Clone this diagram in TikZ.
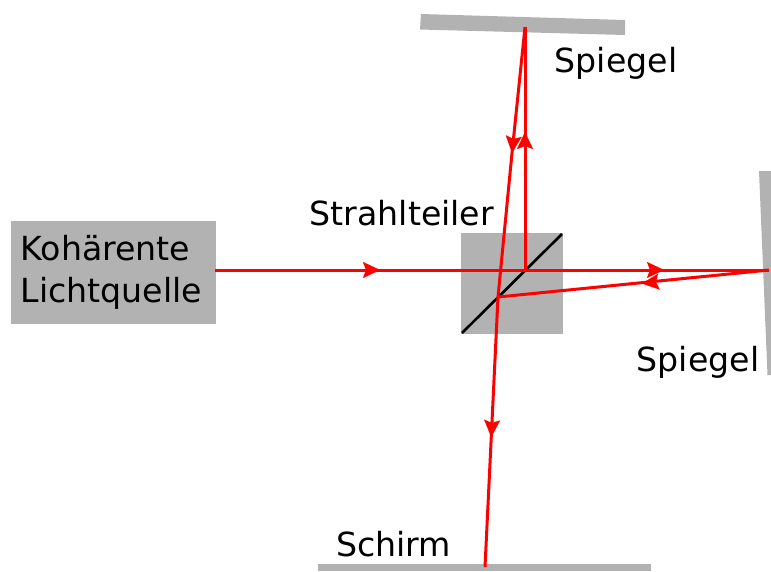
\documentclass[tikz,border=0pt]{standalone}
\usepackage{fontspec}
\setmainfont{DejaVu Sans}
\usetikzlibrary{arrows.meta}
\definecolor{gr}{RGB}{178,178,178}
\tikzset{
  beam/.style={draw=red,line width=3pt},
  tipped/.style={draw=red,line width=0.01pt,-{Stealth[length=17pt,width=16pt,inset=3pt,fill=red]}},
  block/.style={fill=gr,draw=none,inner sep=0pt,minimum width=#1},
  mirror/.style={fill=gr,draw=none},
  lbl/.style={anchor=base west,inner sep=0pt,font=\fontsize{33.2}{40}\selectfont,text=black},
}
\begin{document}
\begin{tikzpicture}[x=1pt,y=-1pt]
\useasboundingbox (0,0) rectangle (771,571);
% mirrors
\fill[mirror] (421,14) -- (625,20) -- (625,35) -- (420,29.5) -- cycle;
\fill[mirror] (759,171) -- (771,171) -- (771,375) -- (767.5,375) -- cycle;
\fill[mirror] (318,564) rectangle (651,571);
% boxes
\node[block=205pt,minimum height=103pt] (src) at (113.5,272.5) {};
\node[block=102pt,minimum height=101pt] (cube) at (512,283.5) {};
\node[lbl] at (20.5,260) {Kohärente};
\node[lbl] at (20.5,302) {Lichtquelle};
\node[lbl] at (309.5,225) {Strahlteiler};
\node[lbl] at (554.5,72.5) {Spiegel};
\node[lbl] at (636.5,371.5) {Spiegel};
\node[lbl] at (336,556) {Schirm};
% splitter
\coordinate (d1) at (462,333);
\coordinate (d2) at (562,234);
\draw[black,line width=2.6pt] (d1) -- (d2);
% beam points
\coordinate (in) at (215,270);
\coordinate (t1) at (380,270);
\coordinate (c) at (525,270);
\coordinate (t2) at (664,270);
\coordinate (rm) at (769,270);
\coordinate (t3) at (642,283.5);
\coordinate (k) at (498,297);
\coordinate (tm) at (525,27);
\coordinate (t4) at (525,132);
\coordinate (t5) at (512,153);
\coordinate (t6) at (491.3,437);
\coordinate (sc) at (485,567);
% beams
\draw[beam] (in) -- (rm);
\draw[beam] (rm) -- (k);
\draw[beam] (c) -- (tm);
\draw[beam] (tm) -- (t5) -- (k);
\draw[beam] (k) -- (sc);
% arrowheads
\draw[tipped] (in) -- (t1);
\draw[tipped] (c) -- (t2);
\draw[tipped] (rm) -- (t3);
\draw[tipped] (c) -- (t4);
\draw[tipped] (tm) -- (t5);
\draw[tipped] (k) -- (t6);
\end{tikzpicture}
\end{document}
